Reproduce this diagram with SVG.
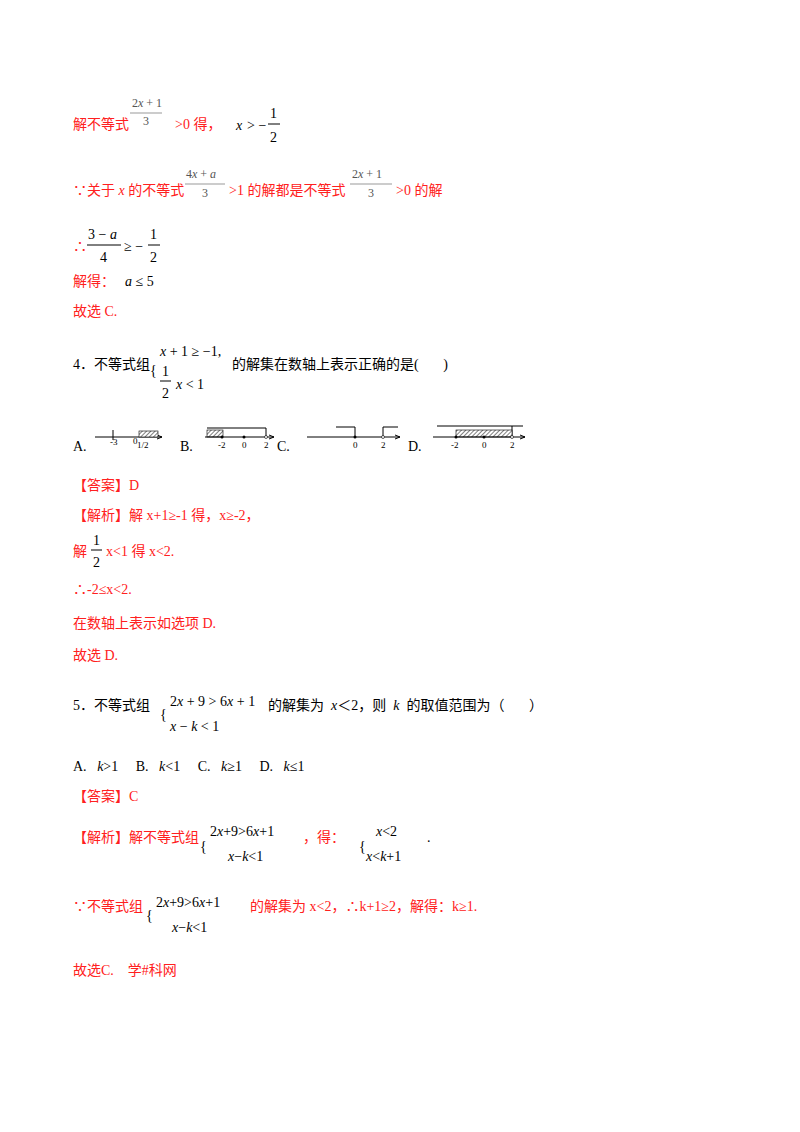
<svg xmlns="http://www.w3.org/2000/svg" width="800" height="1132" viewBox="0 0 800 1132">
<style>
text{font-family:"Liberation Serif","Noto Sans CJK SC",serif;font-size:14px;fill:#000;white-space:pre}
.r{fill:#ff2020}
.g{fill:#555;font-size:12px}
.i{font-style:italic}
.s{font-size:9px}
line,path{stroke:#000;stroke-width:1;fill:none}
.hb{stroke:#000;stroke-width:0.6;fill:url(#h)}
.gl{stroke:#999}
</style>
<defs>
<pattern id="h" width="3" height="3" patternUnits="userSpaceOnUse" patternTransform="rotate(45)"><rect width="3" height="3" fill="#fff"/><line x1="0" y1="0" x2="0" y2="3" stroke="#444" stroke-width="0.8"/></pattern>
<marker id="a" markerWidth="6" markerHeight="6" refX="5" refY="3" orient="auto"><path d="M0,1 L5,3 L0,5" fill="#000" stroke="none"/></marker>
</defs>
<rect width="800" height="1132" fill="#fff"/>
<!-- line 1 -->
<text x="73" y="129" class="r">解不等式</text>
<text x="132" y="107" class="g">2<tspan class="i">x</tspan> + 1</text><line x1="130" y1="113" x2="162" y2="113" class="gl"/><text x="143" y="125" class="g">3</text>
<text x="175" y="129" class="r">&gt;0 得，</text>
<text x="236" y="130" class="i">x</text><text x="247" y="130">&gt; −</text>
<text x="270" y="118">1</text><line x1="268" y1="124" x2="280" y2="124"/><text x="270" y="142">2</text>
<!-- line 2 -->
<text x="73" y="195" class="r">∵关于 <tspan class="i">x</tspan> 的不等式</text>
<text x="186" y="178" class="g">4<tspan class="i">x</tspan> + <tspan class="i">a</tspan></text><line x1="185" y1="184" x2="225" y2="184" class="gl"/><text x="202" y="197" class="g">3</text>
<text x="229" y="195" class="r">&gt;1 的解都是不等式</text>
<text x="352" y="178" class="g">2<tspan class="i">x</tspan> + 1</text><line x1="350" y1="184" x2="392" y2="184" class="gl"/><text x="368" y="197" class="g">3</text>
<text x="396" y="195" class="r">&gt;0 的解</text>
<!-- line 3 -->
<text x="73" y="251" class="r">∴</text>
<text x="88" y="239">3 − <tspan class="i">a</tspan></text><line x1="87" y1="245" x2="121" y2="245"/><text x="100" y="262">4</text>
<text x="124" y="251">≥ −</text>
<text x="150" y="239">1</text><line x1="148" y1="245" x2="160" y2="245"/><text x="150" y="262">2</text>
<text x="73" y="286" class="r">解得：</text>
<text x="125" y="286"><tspan class="i">a</tspan> ≤ 5</text>
<text x="73" y="316" class="r">故选 C.</text>
<!-- Q4 -->
<text x="73" y="369">4．不等式组</text>
<text x="150" y="375">{</text>
<text x="160" y="356"><tspan class="i">x</tspan> + 1 ≥ −1,</text>
<text x="162" y="376">1</text><line x1="160" y1="381" x2="171" y2="381"/><text x="162" y="398">2</text>
<text x="176" y="389"><tspan class="i">x</tspan> &lt; 1</text>
<text x="232" y="369">的解集在数轴上表示正确的是(       )</text>
<!-- options -->
<text x="73" y="451">A.</text>
<line x1="95" y1="437" x2="162" y2="437" marker-end="url(#a)"/>
<line x1="113" y1="430" x2="113" y2="440"/><text x="110" y="445" class="s">-3</text>
<rect x="139" y="431" width="19" height="6" class="hb"/>
<text x="133" y="444" class="s">0</text><text x="137" y="448" class="s">1/2</text>
<text x="180" y="451">B.</text>
<rect x="207" y="430" width="16" height="7" class="hb"/>
<path d="M207,428 H266 V437"/>
<line x1="205" y1="437" x2="274" y2="437" marker-end="url(#a)"/>
<circle cx="222" cy="437" r="1.5" fill="#000"/><circle cx="244" cy="437" r="1.5" fill="#000"/><circle cx="266" cy="437" r="1.5" fill="#fff" stroke="#000" stroke-width="0.6"/>
<text x="218" y="448" class="s">-2</text><text x="242" y="448" class="s">0</text><text x="264" y="448" class="s">2</text>
<text x="277" y="451">C.</text>
<line x1="307" y1="437" x2="400" y2="437" marker-end="url(#a)"/>
<path d="M336,427 H355 V437"/><path d="M383,437 V427 H398"/>
<circle cx="355" cy="437" r="1.5" fill="#000"/><circle cx="383" cy="437" r="1.5" fill="#fff" stroke="#000" stroke-width="0.6"/>
<text x="353" y="448" class="s">0</text><text x="381" y="448" class="s">2</text>
<text x="408" y="451">D.</text>
<path d="M437,426 H512 V437"/><line x1="512" y1="426" x2="523" y2="426"/>
<rect x="456" y="430" width="56" height="7" class="hb"/>
<line x1="433" y1="437" x2="525" y2="437" marker-end="url(#a)"/>
<circle cx="456" cy="437" r="1.5" fill="#000"/><circle cx="484" cy="437" r="1.5" fill="#000"/><circle cx="512" cy="437" r="1.5" fill="#fff" stroke="#000" stroke-width="0.6"/>
<text x="451" y="448" class="s">-2</text><text x="482" y="448" class="s">0</text><text x="510" y="448" class="s">2</text>
<!-- answer 4 -->
<text x="73" y="490" class="r">【答案】D</text>
<text x="73" y="520" class="r">【解析】解 x+1≥-1 得，x≥-2，</text>
<text x="73" y="556" class="r">解</text>
<text x="93" y="545">1</text><line x1="91" y1="550" x2="102" y2="550"/><text x="93" y="567">2</text>
<text x="106" y="556" class="r">x&lt;1 得 x&lt;2.</text>
<text x="73" y="594" class="r">∴-2≤x&lt;2.</text>
<text x="73" y="628" class="r">在数轴上表示如选项 D.</text>
<text x="73" y="660" class="r">故选 D.</text>
<!-- Q5 -->
<text x="73" y="710">5．不等式组</text>
<text x="160" y="719">{</text>
<text x="170" y="706">2<tspan class="i">x</tspan> + 9 &gt; 6<tspan class="i">x</tspan> + 1</text>
<text x="170" y="731"><tspan class="i">x</tspan> − <tspan class="i">k</tspan> &lt; 1</text>
<text x="268" y="710">的解集为  <tspan class="i">x</tspan>＜2，则  <tspan class="i">k</tspan>  的取值范围为（       ）</text>
<text x="73" y="771">A.   <tspan class="i">k</tspan>&gt;1     B.   <tspan class="i">k</tspan>&lt;1     C.   <tspan class="i">k</tspan>≥1     D.   <tspan class="i">k</tspan>≤1</text>
<text x="73" y="801" class="r">【答案】C</text>
<text x="73" y="842" class="r">【解析】解不等式组</text>
<text x="200" y="851">{</text>
<text x="210" y="836">2<tspan class="i">x</tspan>+9&gt;6<tspan class="i">x</tspan>+1</text>
<text x="228" y="861"><tspan class="i">x</tspan>−<tspan class="i">k</tspan>&lt;1</text>
<text x="303" y="842" class="r">，得：</text>
<text x="359" y="851">{</text>
<text x="376" y="836"><tspan class="i">x</tspan>&lt;2</text>
<text x="366" y="861"><tspan class="i">x</tspan>&lt;<tspan class="i">k</tspan>+1</text>
<text x="427" y="842">.</text>
<text x="73" y="911" class="r">∵不等式组</text>
<text x="146" y="920">{</text>
<text x="156" y="907">2<tspan class="i">x</tspan>+9&gt;6<tspan class="i">x</tspan>+1</text>
<text x="172" y="932"><tspan class="i">x</tspan>−<tspan class="i">k</tspan>&lt;1</text>
<text x="250" y="911" class="r">的解集为 x&lt;2，∴k+1≥2，解得：k≥1.</text>
<text x="73" y="975" class="r">故选C.    学#科网</text>
</svg>
